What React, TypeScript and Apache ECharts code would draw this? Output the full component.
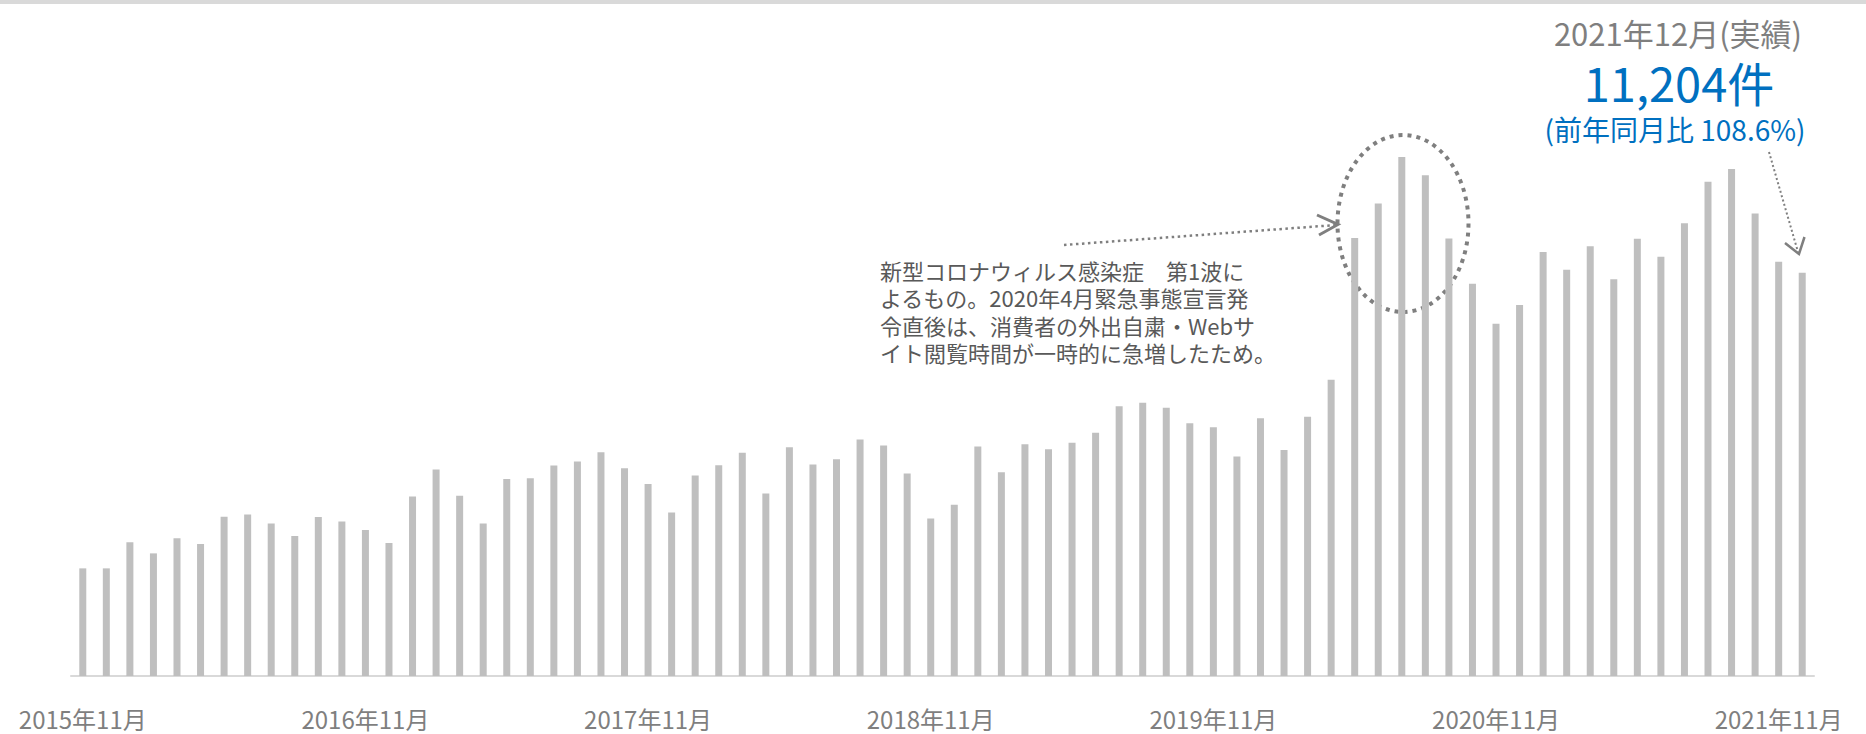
import React, { useEffect, useRef } from "react";
import * as echarts from "echarts";

const categories = [
  "2015年11月", "2015年12月",
  "2016年1月", "2016年2月", "2016年3月", "2016年4月", "2016年5月", "2016年6月", "2016年7月", "2016年8月", "2016年9月", "2016年10月", "2016年11月", "2016年12月",
  "2017年1月", "2017年2月", "2017年3月", "2017年4月", "2017年5月", "2017年6月", "2017年7月", "2017年8月", "2017年9月", "2017年10月", "2017年11月", "2017年12月",
  "2018年1月", "2018年2月", "2018年3月", "2018年4月", "2018年5月", "2018年6月", "2018年7月", "2018年8月", "2018年9月", "2018年10月", "2018年11月", "2018年12月",
  "2019年1月", "2019年2月", "2019年3月", "2019年4月", "2019年5月", "2019年6月", "2019年7月", "2019年8月", "2019年9月", "2019年10月", "2019年11月", "2019年12月",
  "2020年1月", "2020年2月", "2020年3月", "2020年4月", "2020年5月", "2020年6月", "2020年7月", "2020年8月", "2020年9月", "2020年10月", "2020年11月", "2020年12月",
  "2021年1月", "2021年2月", "2021年3月", "2021年4月", "2021年5月", "2021年6月", "2021年7月", "2021年8月", "2021年9月", "2021年10月", "2021年11月", "2021年12月",
];

const counts = [
  2990, 2990, 3712, 3406, 3823, 3664, 4422, 4489, 4239, 3886,
  4414, 4294, 4053, 3692, 4988, 5738, 5005, 4239, 5469, 5496,
  5849, 5960, 6218, 5774, 5330, 4544, 5571, 5857, 6199, 5072,
  6357, 5877, 6024, 6571, 6404, 5627, 4378, 4755, 6376, 5663,
  6440, 6302, 6476, 6754, 7495, 7587, 7448, 7023, 6912, 6099,
  7162, 6279, 7198, 8228, 12164, 13122, 14416, 13911, 12153, 10893,
  9783, 10307, 11781, 11284, 11940, 11021, 12148, 11645, 12575, 13727,
  14083, 12845, 11509, 11204,
];

const headlineTitle = "2021年12月(実績)";
const headlineValue = "11,204件";
const headlineRatio = "(前年同月比 108.6%)";
const noteText =
  "新型コロナウィルス感染症　第1波に\nよるもの。2020年4月緊急事態宣言発\n令直後は、消費者の外出自粛・Webサ\nイト閲覧時間が一時的に急増したため。";

const FONT = '"Noto Sans CJK JP", "Noto Sans", sans-serif';
const GRAY_TEXT = "#7f7f7f";
const BLUE = "#0070c0";
const ARROW = "#7f7f7f";

export default function App() {
  const ref = useRef<HTMLDivElement>(null);

  useEffect(() => {
    if (!ref.current) return;
    const chart = echarts.init(ref.current, null, { renderer: "svg" });
    chart.setOption({
      animation: false,
      backgroundColor: "#ffffff",
      grid: { left: 71, right: 52, top: 100, bottom: 58, containLabel: false },
      xAxis: {
        type: "category",
        data: categories,
        boundaryGap: true,
        axisLine: { show: true, lineStyle: { color: "#d9d9d9", width: 2 } },
        axisTick: { show: false },
        axisLabel: {
          interval: 11,
          margin: 29,
          fontSize: 24,
          lineHeight: 26,
          color: GRAY_TEXT,
          fontFamily: FONT,
        },
      },
      yAxis: {
        type: "value",
        min: 0,
        max: 16000,
        show: false,
        splitLine: { show: false },
      },
      series: [
        {
          type: "bar",
          data: counts,
          barWidth: 7,
          itemStyle: { color: "#bfbfbf" },
          silent: true,
        },
      ],
      graphic: [
        {
          type: "rect",
          shape: { x: 0, y: 0, width: 1866, height: 4 },
          style: { fill: "#d9d9d9" },
        },
        {
          type: "text",
          x: 1678,
          y: 32,
          style: {
            text: headlineTitle,
            fontSize: 31,
            lineHeight: 34,
            fontFamily: FONT,
            fill: GRAY_TEXT,
            align: "center",
            verticalAlign: "middle",
          },
        },
        {
          type: "text",
          x: 1679,
          y: 81,
          style: {
            text: headlineValue,
            fontSize: 47,
            lineHeight: 52,
            fontFamily: FONT,
            fill: BLUE,
            align: "center",
            verticalAlign: "middle",
          },
        },
        {
          type: "text",
          x: 1675,
          y: 129,
          style: {
            text: headlineRatio,
            fontSize: 28,
            lineHeight: 31,
            fontFamily: FONT,
            fill: BLUE,
            align: "center",
            verticalAlign: "middle",
          },
        },
        {
          type: "text",
          x: 880,
          y: 256,
          style: {
            text: noteText,
            fontSize: 22,
            lineHeight: 27.5,
            fontFamily: FONT,
            fill: "#595959",
            align: "left",
            verticalAlign: "top",
          },
        },
        {
          type: "ellipse",
          shape: { cx: 1403, cy: 223.5, rx: 65.5, ry: 88.5 },
          style: {
            fill: "none",
            stroke: ARROW,
            lineWidth: 4,
            lineDash: [4, 5],
          },
        },
        {
          type: "line",
          shape: { x1: 1064, y1: 245, x2: 1336, y2: 225 },
          style: { stroke: ARROW, lineWidth: 2.5, lineDash: [2.5, 3.5] },
        },
        {
          type: "polyline",
          shape: { points: [[1317, 215], [1338, 224.5], [1319, 235]] },
          style: { stroke: ARROW, lineWidth: 3, fill: "none" },
        },
        {
          type: "line",
          shape: { x1: 1769, y1: 152, x2: 1798, y2: 252 },
          style: { stroke: ARROW, lineWidth: 2, lineDash: [2, 2.5] },
        },
        {
          type: "polyline",
          shape: { points: [[1785, 243], [1799, 254], [1804.5, 237]] },
          style: { stroke: ARROW, lineWidth: 2.5, fill: "none" },
        },
      ],
    });
    return () => chart.dispose();
  }, []);

  return (
    <div
      ref={ref}
      style={{ position: "fixed", left: 0, top: 0, width: 1866, height: 734, background: "#fff" }}
    />
  );
}
